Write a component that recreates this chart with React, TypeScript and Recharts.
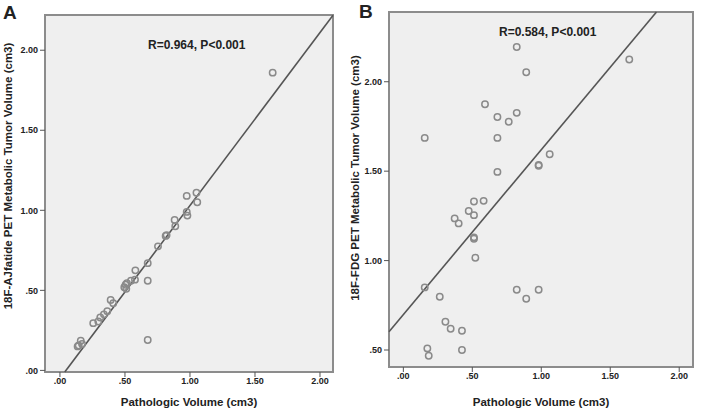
import React from 'react'
import {
  ScatterChart,
  Scatter,
  XAxis,
  YAxis,
  ReferenceArea,
  ReferenceLine,
  Label,
} from 'recharts'

// panel A: 18F-AJfatide vs pathologic volume
const aPathologic = [1.636, 0.975, 1.05, 1.056, 0.975, 0.98, 0.882, 0.887, 0.813, 0.82, 0.754, 0.675, 0.675, 0.675, 0.58, 0.577, 0.546, 0.515, 0.505, 0.495, 0.51, 0.39, 0.41, 0.364, 0.338, 0.31, 0.295, 0.256, 0.16, 0.17, 0.144, 0.136]
const aMetabolic = [1.86, 1.09, 1.11, 1.05, 0.99, 0.967, 0.94, 0.9, 0.84, 0.845, 0.775, 0.67, 0.56, 0.19, 0.625, 0.567, 0.56, 0.545, 0.535, 0.52, 0.51, 0.44, 0.42, 0.37, 0.35, 0.33, 0.305, 0.295, 0.185, 0.165, 0.156, 0.15]

// panel B: 18F-FDG vs pathologic volume
const bPathologic = [0.822, 1.638, 0.891, 0.592, 0.682, 0.822, 0.764, 0.155, 0.682, 0.682, 1.061, 0.981, 0.981, 0.512, 0.582, 0.474, 0.512, 0.372, 0.401, 0.512, 0.512, 0.522, 0.155, 0.264, 0.305, 0.343, 0.425, 0.174, 0.184, 0.425, 0.822, 0.891, 0.981]
const bMetabolic = [2.194, 2.124, 2.053, 1.874, 1.803, 1.826, 1.776, 1.686, 1.686, 1.496, 1.595, 1.53, 1.535, 1.33, 1.334, 1.277, 1.254, 1.236, 1.208, 1.122, 1.13, 1.016, 0.85, 0.798, 0.658, 0.619, 0.608, 0.509, 0.468, 0.5, 0.837, 0.787, 0.837]

// fitted lines (slope, intercept)
const aFit = [1.08, -0.05]
const bFit = [0.922, 0.698]

const aXDomain = [-0.115, 2.1]
const aYDomain = [-0.01, 2.22]
const bXDomain = [-0.104, 2.1]
const bYDomain = [0.405, 2.39]

const aTicks = [0, 0.5, 1, 1.5, 2]
const bYTicks = [0.5, 1, 1.5, 2]

const FONT = '"Liberation Sans", Arial, sans-serif'

const fmt = (v: number) => {
  const s = v.toFixed(2)
  return s.startsWith('0') ? s.slice(1) : s
}

const toPoints = (xs: number[], ys: number[]) => xs.map((x, i) => ({ x, y: ys[i] }))

// clip fit line to the plot window
const fitSegment = (fit: number[], xd: number[], yd: number[]) => {
  const [m, b] = fit
  let x1 = xd[0]
  let x2 = xd[1]
  x1 = Math.max(x1, (yd[0] - b) / m)
  x2 = Math.min(x2, (yd[1] - b) / m)
  return [
    { x: x1, y: m * x1 + b },
    { x: x2, y: m * x2 + b },
  ]
}

const Ring = (props: any) => {
  const { cx, cy } = props
  return <circle cx={cx} cy={cy} r={3.2} fill="none" stroke="#8a8a8a" strokeWidth={1.5} />
}

const tickStyle = { fontSize: 9, fontWeight: 700, fill: '#222', fontFamily: FONT }
const labelStyle = { fontSize: 11.5, fontWeight: 700, fill: '#222', fontFamily: FONT }

type PanelProps = {
  width: number
  margin: any
  yWidth: number
  xHeight: number
  xd: number[]
  yd: number[]
  yTicks: number[]
  data: { x: number; y: number }[]
  fit: number[]
}

const Panel = ({ width, margin, yWidth, xHeight, xd, yd, yTicks, data, fit }: PanelProps) => (
  <ScatterChart width={width} height={411} margin={margin}>
    <XAxis
      type="number"
      dataKey="x"
      domain={xd}
      ticks={aTicks}
      tickFormatter={fmt}
      allowDataOverflow
      axisLine={false}
      tickLine={{ stroke: '#555' }}
      tickSize={5}
      tickMargin={1}
      height={xHeight}
      tick={tickStyle}
    >
      <Label value="Pathologic Volume (cm3)" position="insideBottom" offset={5} style={labelStyle} />
    </XAxis>
    <YAxis
      type="number"
      dataKey="y"
      domain={yd}
      ticks={yTicks}
      tickFormatter={fmt}
      allowDataOverflow
      axisLine={false}
      tickLine={{ stroke: '#555' }}
      tickSize={5}
      tickMargin={2}
      width={yWidth}
      tick={tickStyle}
    />
    <ReferenceArea
      x1={xd[0]}
      x2={xd[1]}
      y1={yd[0]}
      y2={yd[1]}
      fill="#efefef"
      fillOpacity={1}
      stroke="#8c8c8c"
      strokeWidth={2}
    />
    <ReferenceLine segment={fitSegment(fit, xd, yd)} stroke="#555" strokeWidth={1.6} />
    <Scatter data={data} shape={<Ring />} isAnimationActive={false} />
  </ScatterChart>
)

const textBase: React.CSSProperties = {
  position: 'absolute',
  fontFamily: FONT,
  color: '#222',
  whiteSpace: 'nowrap',
}

const VLabel = ({ text, cx, cy }: { text: string; cx: number; cy: number }) => (
  <div
    style={{
      ...textBase,
      left: cx,
      top: cy,
      fontSize: 11.5,
      fontWeight: 700,
      lineHeight: '12px',
      transform: 'translate(-50%, -50%) rotate(-90deg)',
    }}
  >
    {text}
  </div>
)

export default function App() {
  return (
    <div style={{ position: 'absolute', left: 0, top: 0, width: 703, height: 411, background: '#fff', overflow: 'hidden' }}>
      <div style={{ position: 'absolute', left: 0, top: 0 }}>
        <Panel
          width={350}
          margin={{ top: 15, right: 17, bottom: 0, left: 0 }}
          yWidth={45}
          xHeight={39}
          xd={aXDomain}
          yd={aYDomain}
          yTicks={aTicks}
          data={toPoints(aPathologic, aMetabolic)}
          fit={aFit}
        />
      </div>
      <div style={{ position: 'absolute', left: 350, top: 0 }}>
        <Panel
          width={353}
          margin={{ top: 12, right: 10, bottom: 0, left: 0 }}
          yWidth={39}
          xHeight={44}
          xd={bXDomain}
          yd={bYDomain}
          yTicks={bYTicks}
          data={toPoints(bPathologic, bMetabolic)}
          fit={bFit}
        />
      </div>
      <VLabel text="18F-AJfatide PET Metabolic Tumor Volume (cm3)" cx={8} cy={176} />
      <VLabel text="18F-FDG PET Metabolic Tumor Volume (cm3)" cx={355} cy={178} />
      <div style={{ ...textBase, left: 3, top: 2, fontSize: 19, fontWeight: 700 }}>A</div>
      <div style={{ ...textBase, left: 359, top: 1, fontSize: 19, fontWeight: 700 }}>B</div>
      <div style={{ ...textBase, left: 148, top: 38, fontSize: 12, fontWeight: 700 }}>R=0.964, P&lt;0.001</div>
      <div style={{ ...textBase, left: 499, top: 25, fontSize: 12, fontWeight: 700 }}>R=0.584, P&lt;0.001</div>
    </div>
  )
}
